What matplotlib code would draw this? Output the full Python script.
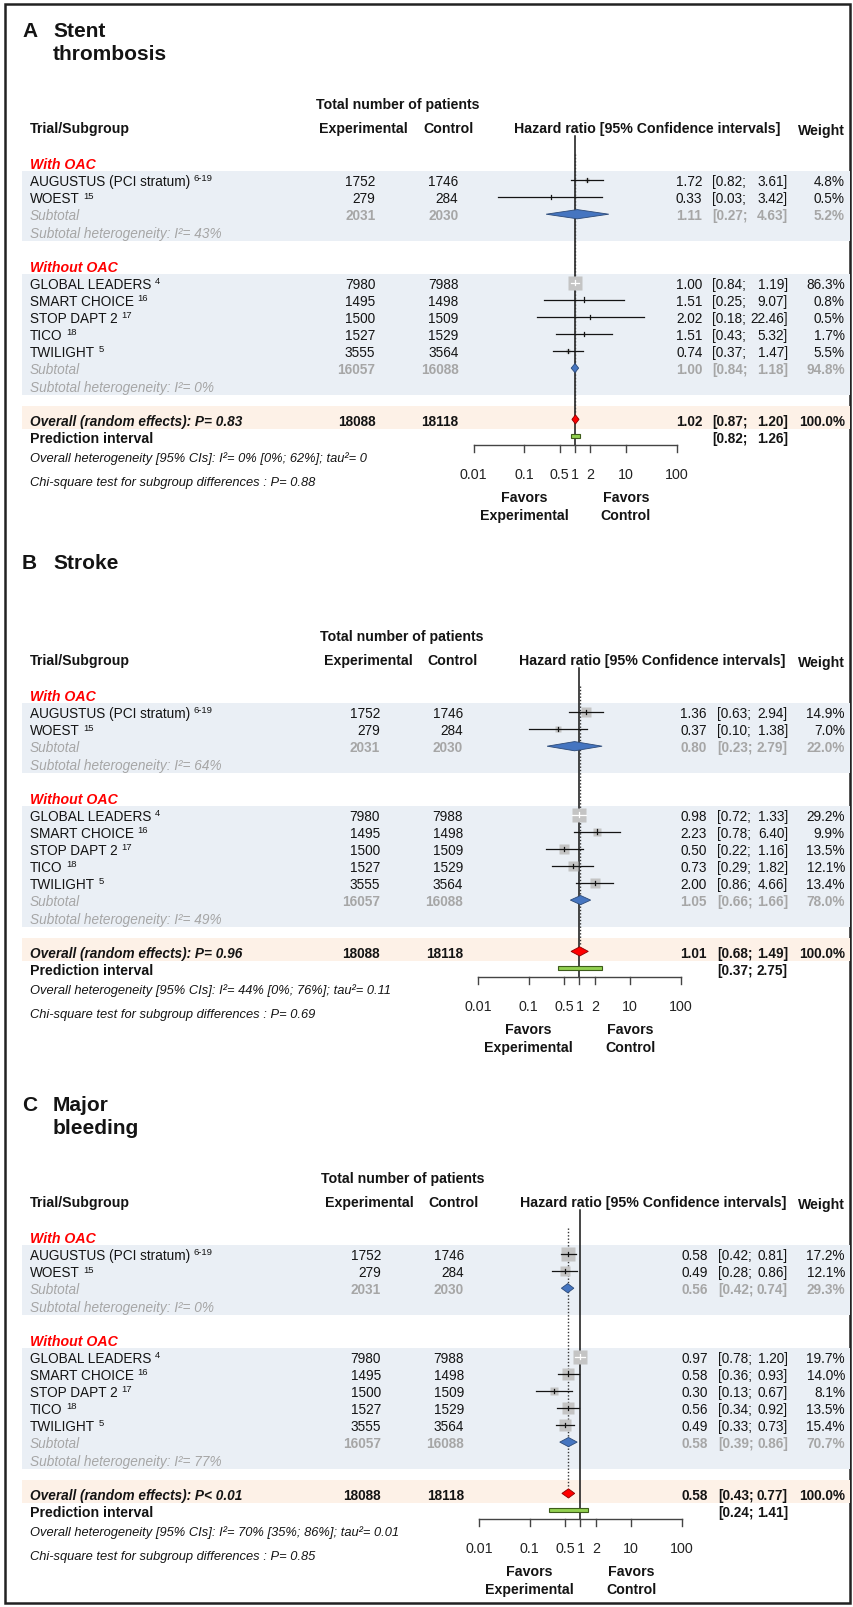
import numpy as np
import matplotlib.pyplot as plt
from matplotlib.patches import Polygon, Rectangle

plt.rcParams['font.family'] = ['Liberation Sans', 'DejaVu Sans']

# ---- trials (shared by all three outcomes) ----
trials = ["AUGUSTUS (PCI stratum)", "WOEST", "GLOBAL LEADERS", "SMART CHOICE",
          "STOP DAPT 2", "TICO", "TWILIGHT"]
refs = ["6-19", "15", "4", "16", "17", "18", "5"]
groups = ["With OAC", "Without OAC"]
group_size = [2, 5]
n_exp = [1752, 279, 7980, 1495, 1500, 1527, 3555]
n_ctl = [1746, 284, 7988, 1498, 1509, 1529, 3564]
sub_exp = [2031, 16057]
sub_ctl = [2030, 16088]
total_exp = 18088
total_ctl = 18118

# ---- A: stent thrombosis ----
st_hr = [1.72, 0.33, 1.00, 1.51, 2.02, 1.51, 0.74]
st_lo = [0.82, 0.03, 0.84, 0.25, 0.18, 0.43, 0.37]
st_hi = [3.61, 3.42, 1.19, 9.07, 22.46, 5.32, 1.47]
st_wt = [4.8, 0.5, 86.3, 0.8, 0.5, 1.7, 5.5]
st_sub_hr = [1.11, 1.00]
st_sub_lo = [0.27, 0.84]
st_sub_hi = [4.63, 1.18]
st_sub_wt = [5.2, 94.8]
st_sub_i2 = [43, 0]
st_overall = [1.02, 0.87, 1.20]
st_pred = [0.82, 1.26]
st_p = "P= 0.83"
st_het = "I²= 0% [0%; 62%]; tau²= 0"
st_chi = "0.88"

# ---- B: stroke ----
sk_hr = [1.36, 0.37, 0.98, 2.23, 0.50, 0.73, 2.00]
sk_lo = [0.63, 0.10, 0.72, 0.78, 0.22, 0.29, 0.86]
sk_hi = [2.94, 1.38, 1.33, 6.40, 1.16, 1.82, 4.66]
sk_wt = [14.9, 7.0, 29.2, 9.9, 13.5, 12.1, 13.4]
sk_sub_hr = [0.80, 1.05]
sk_sub_lo = [0.23, 0.66]
sk_sub_hi = [2.79, 1.66]
sk_sub_wt = [22.0, 78.0]
sk_sub_i2 = [64, 49]
sk_overall = [1.01, 0.68, 1.49]
sk_pred = [0.37, 2.75]
sk_p = "P= 0.96"
sk_het = "I²= 44% [0%; 76%]; tau²= 0.11"
sk_chi = "0.69"

# ---- C: major bleeding ----
mb_hr = [0.58, 0.49, 0.97, 0.58, 0.30, 0.56, 0.49]
mb_lo = [0.42, 0.28, 0.78, 0.36, 0.13, 0.34, 0.33]
mb_hi = [0.81, 0.86, 1.20, 0.93, 0.67, 0.92, 0.73]
mb_wt = [17.2, 12.1, 19.7, 14.0, 8.1, 13.5, 15.4]
mb_sub_hr = [0.56, 0.58]
mb_sub_lo = [0.42, 0.39]
mb_sub_hi = [0.74, 0.86]
mb_sub_wt = [29.3, 70.7]
mb_sub_i2 = [0, 77]
mb_overall = [0.58, 0.43, 0.77]
mb_pred = [0.24, 1.41]
mb_p = "P< 0.01"
mb_het = "I²= 70% [35%; 86%]; tau²= 0.01"
mb_chi = "0.85"

ticks = [0.01, 0.1, 0.5, 1, 2, 10, 100]
tick_labels = ["0.01", "0.1", "0.5", "1", "2", "10", "100"]

W, H = 854, 1608
RH = 17.1            # one forest row in pixels
TOP, BOT = -9.5, 20  # row range of each panel
FOREST_W = 203       # pixels from 0.01 to 100

BLACK = '#141414'
GRAY = '#a6a6a6'
RED = '#ff0000'
BAND = '#eaeff5'
BAND_OV = '#fdf1e7'
FS = 9.8
FSH = 10.2

fig = plt.figure(figsize=(W / 100, H / 100), dpi=100)

bg = fig.add_axes([0, 0, 1, 1])
bg.set_xlim(0, W)
bg.set_ylim(H, 0)
bg.axis('off')
bg.add_patch(Rectangle((5, 5), W - 9, H - 9, fill=False, lw=1.8, ec='#222222'))


def fmt(v):
    return f"{v:.2f}"


def draw_panel(letter, title, origin, dx, hr, lo, hi, wt,
               s_hr, s_lo, s_hi, s_wt, s_i2, overall, pred, p_txt, het, chi):
    bottom = 1 - (origin + BOT * RH) / H
    height = (BOT - TOP) * RH / H
    tab = fig.add_axes([0, bottom, 1, height])
    tab.set_xlim(0, W)
    tab.set_ylim(BOT, TOP)
    tab.axis('off')
    fx = fig.add_axes([(478 + dx) / W, bottom, FOREST_W / W, height])
    fx.set_xscale('log')
    fx.set_xlim(0.01, 100)
    fx.set_ylim(BOT, TOP)
    fx.axis('off')

    def t(x, r, s, **kw):
        kw.setdefault('fontsize', FS)
        kw.setdefault('color', BLACK)
        return tab.text(x, r + 0.3, s, va='baseline', **kw)

    # title
    t(22, -8.75, letter, fontsize=15, fontweight='bold')
    for i, line in enumerate(title):
        t(53, -8.75 + 1.35 * i, line, fontsize=15, fontweight='bold')

    # column headers
    t(402 + dx, -4.5, "Total number of patients", ha='center', fontsize=FSH, fontweight='bold')
    t(30, -3.1, "Trial/Subgroup", fontsize=FSH, fontweight='bold')
    t(368 + dx, -3.1, "Experimental", ha='center', fontsize=FSH, fontweight='bold')
    t(453 + dx, -3.1, "Control", ha='center', fontsize=FSH, fontweight='bold')
    t(519 + dx, -3.1, "Hazard ratio [95% Confidence intervals]", fontsize=FSH, fontweight='bold')
    t(845, -3.0, "Weight", ha='right', fontsize=FSH, fontweight='bold')

    # background bands
    tab.add_patch(Rectangle((22, -0.5), 828, 4.05, fc=BAND, ec='none'))
    tab.add_patch(Rectangle((22, 5.5), 828, 7.1, fc=BAND, ec='none'))
    tab.add_patch(Rectangle((22, 13.2), 828, 1.35, fc=BAND_OV, ec='none'))

    # reference lines
    fx.plot([1, 1], [-2.6, 15.5], color=BLACK, lw=1.1, zorder=2)
    fx.plot([overall[0]] * 2, [-1.5, 13.7], color='#333333', lw=1.0,
            ls=(0, (1, 1.4)), zorder=2)

    px_per_dec = FOREST_W / 4
    k = 0
    row = 0
    for g, (gname, size) in enumerate(zip(groups, group_size)):
        t(30, row - 1, gname, color=RED, fontweight='bold', style='italic', fontsize=FSH)
        wmax = max(wt)
        for j in range(size):
            i = k + j
            r = row + j
            name = t(30, r, trials[i])
            # reference number as a small superscript after the trial name
            tab.annotate(refs[i], xy=(1, 1), xycoords=name, xytext=(2.5, 0.5),
                         textcoords='offset points', ha='left', va='top',
                         fontsize=6.8, color=BLACK)
            t(380 + dx, r, f"{n_exp[i]}", ha='right')
            t(463 + dx, r, f"{n_ctl[i]}", ha='right')
            t(707 + dx, r, fmt(hr[i]), ha='right')
            t(717 + dx, r, f"[{fmt(lo[i])};", ha='left')
            t(788, r, f"{fmt(hi[i])}]", ha='right')
            t(845, r, f"{wt[i]:.1f}%", ha='right')
            side = 14 * np.sqrt(wt[i] / wmax)
            fx.plot(hr[i], r, marker='s', ms=side * 0.72, color='#c4c4c4',
                    mec='none', zorder=3)
            half = side / 2 / px_per_dec
            inside = (np.log10(hr[i] / lo[i]) < half) and (np.log10(hi[i] / hr[i]) < half)
            lc = 'white' if inside else BLACK
            fx.plot([lo[i], hi[i]], [r, r], color=lc, lw=0.9, zorder=4)
            fx.plot([hr[i], hr[i]], [r - 0.13, r + 0.13], color=lc, lw=0.9, zorder=4)
        rs = row + size
        t(30, rs, "Subtotal", color=GRAY, style='italic')
        t(380 + dx, rs, f"{sub_exp[g]}", ha='right', color=GRAY, fontweight='bold')
        t(463 + dx, rs, f"{sub_ctl[g]}", ha='right', color=GRAY, fontweight='bold')
        t(707 + dx, rs, fmt(s_hr[g]), ha='right', color=GRAY, fontweight='bold')
        t(717 + dx, rs, f"[{fmt(s_lo[g])};", color=GRAY, fontweight='bold')
        t(788, rs, f"{fmt(s_hi[g])}]", ha='right', color=GRAY, fontweight='bold')
        t(845, rs, f"{s_wt[g]:.1f}%", ha='right', color=GRAY, fontweight='bold')
        t(30, rs + 1.05, f"Subtotal heterogeneity: I²= {s_i2[g]}%", color=GRAY, style='italic')
        fx.add_patch(Polygon([[s_lo[g], rs], [s_hr[g], rs - 0.27], [s_hi[g], rs],
                              [s_hr[g], rs + 0.27]], closed=True, fc='#4575c0',
                             ec='#2c4a78', lw=0.6, zorder=5))
        k += size
        row = rs + 4

    # overall row
    ro = 14
    t(30, ro, f"Overall (random effects): {p_txt}", fontweight='bold', style='italic')
    t(380 + dx, ro, f"{total_exp}", ha='right', fontweight='bold')
    t(463 + dx, ro, f"{total_ctl}", ha='right', fontweight='bold')
    t(707 + dx, ro, fmt(overall[0]), ha='right', fontweight='bold')
    t(717 + dx, ro, f"[{fmt(overall[1])};", fontweight='bold')
    t(788, ro, f"{fmt(overall[2])}]", ha='right', fontweight='bold')
    t(845, ro, "100.0%", ha='right', fontweight='bold')
    fx.add_patch(Polygon([[overall[1], ro], [overall[0], ro - 0.27], [overall[2], ro],
                          [overall[0], ro + 0.27]], closed=True, fc='#ff0000',
                         ec='#8b0000', lw=0.6, zorder=5))

    # prediction interval
    rp = 15
    t(30, rp, "Prediction interval", fontweight='bold', fontsize=FSH)
    t(717 + dx, rp, f"[{fmt(pred[0])};", fontweight='bold')
    t(788, rp, f"{fmt(pred[1])}]", ha='right', fontweight='bold')
    fx.add_patch(Rectangle((pred[0], rp - 0.15), pred[1] - pred[0], 0.26,
                           fc='#92d050', ec='#3d5c1a', lw=0.8, zorder=5))

    # heterogeneity notes
    t(30, 16.15, f"Overall heterogeneity [95% CIs]: {het}", style='italic', fontsize=9.3)
    t(30, 17.55, f"Chi-square test for subgroup differences : P= {chi}",
      style='italic', fontsize=9.3)

    # log axis
    ra = 15.5
    fx.plot([ticks[0], ticks[-1]], [ra, ra], color='#444444', lw=1.0, zorder=2,
            clip_on=False)
    for tk, tl in zip(ticks, tick_labels):
        fx.plot([tk, tk], [ra, ra + 0.42], color='#444444', lw=1.0, clip_on=False)
        fx.text(tk, 17.15 + 0.3, tl, ha='center', va='baseline', fontsize=10.3,
                color='#222222')
    for xv, words in [(0.1, ["Favors", "Experimental"]), (10, ["Favors", "Control"])]:
        fx.text(xv, 18.5 + 0.3, words[0], ha='center', va='baseline',
                fontsize=FSH, fontweight='bold', color=BLACK)
        fx.text(xv, 19.5 + 0.3, words[1], ha='center', va='baseline',
                fontsize=FSH, fontweight='bold', color=BLACK)


draw_panel("A", ["Stent", "thrombosis"], 181, -4.5,
           st_hr, st_lo, st_hi, st_wt, st_sub_hr, st_sub_lo, st_sub_hi, st_sub_wt,
           st_sub_i2, st_overall, st_pred, st_p, st_het, st_chi)
draw_panel("B", ["Stroke"], 713, 0,
           sk_hr, sk_lo, sk_hi, sk_wt, sk_sub_hr, sk_sub_lo, sk_sub_hi, sk_sub_wt,
           sk_sub_i2, sk_overall, sk_pred, sk_p, sk_het, sk_chi)
draw_panel("C", ["Major", "bleeding"], 1255, 1,
           mb_hr, mb_lo, mb_hi, mb_wt, mb_sub_hr, mb_sub_lo, mb_sub_hi, mb_sub_wt,
           mb_sub_i2, mb_overall, mb_pred, mb_p, mb_het, mb_chi)

fig.savefig('out.png', dpi=100)
